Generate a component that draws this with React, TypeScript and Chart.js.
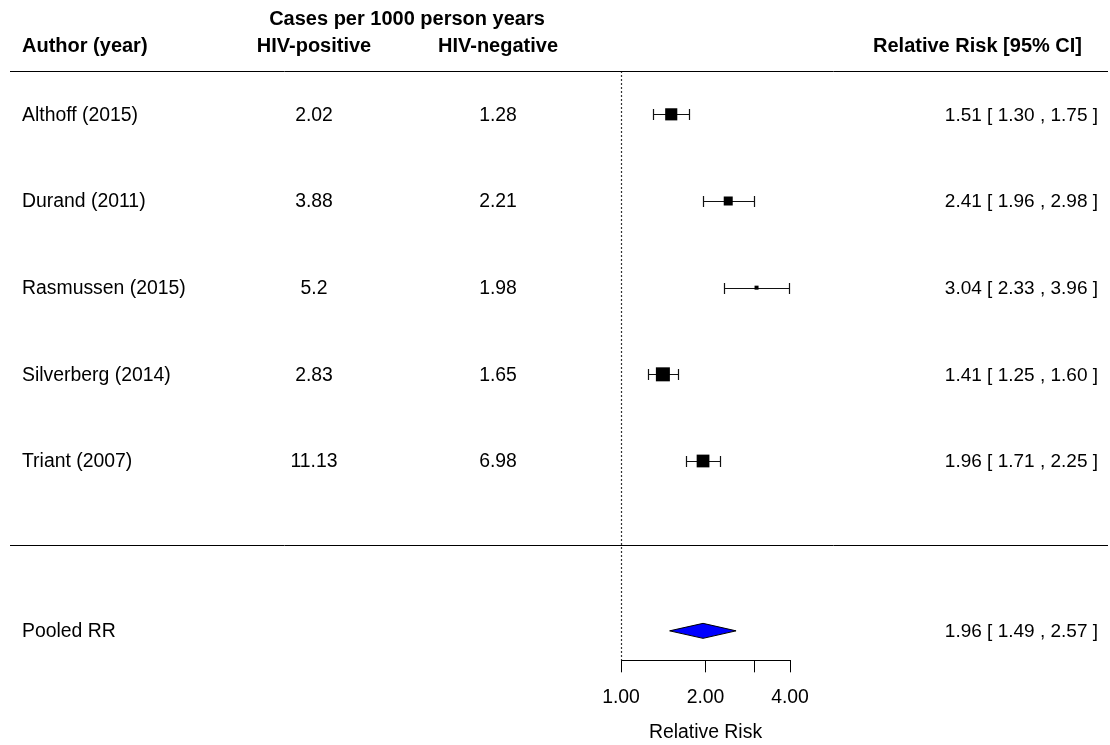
import React, { useEffect, useRef } from 'react';
import { Chart, registerables } from 'chart.js';

Chart.register(...registerables);

// ---- data ----
const studies = ['Althoff (2015)', 'Durand (2011)', 'Rasmussen (2015)', 'Silverberg (2014)', 'Triant (2007)'];
const hivPositive = ['2.02', '3.88', '5.2', '2.83', '11.13'];
const hivNegative = ['1.28', '2.21', '1.98', '1.65', '6.98'];
const relRisk = [1.51, 2.41, 3.04, 1.41, 1.96];
const ciLow = [1.3, 1.96, 2.33, 1.25, 1.71];
const ciHigh = [1.75, 2.98, 3.96, 1.6, 2.25];
const weights = [21.5, 19, 15, 23, 22];
const pooledLabel = 'Pooled RR';
const pooledRR = 1.96;
const pooledLow = 1.49;
const pooledHigh = 2.57;
const xTicks = [1, 2, 3, 4];
const xTickLabels = ['1.00', '2.00', '', '4.00'];
const headerTop = 'Cases per 1000 person years';
const headers = ['Author (year)', 'HIV-positive', 'HIV-negative', 'Relative Risk [95% CI]'];
const axisTitle = 'Relative Risk';

// ---- layout constants ----
const W = 1110;
const H = 745;
const FONT = '"Liberation Sans", Arial, Helvetica, sans-serif';
const FS = 19.4;
const FSR = 19;
const FSB = 20;
const SEP_ROW = 4.97;
const POOLED_ROW = 5.96;

const fmt = (v: number) => v.toFixed(2);

const minW = Math.min(...weights);
const maxW = Math.max(...weights);
const sideFor = (w: number) => 4 + ((w - minW) / (maxW - minW)) * 10;

const forestPlugin = {
  id: 'forest',
  beforeDatasetsDraw(chart: any) {
    const { ctx, chartArea } = chart;
    const xs = chart.scales.x;
    const ys = chart.scales.y;
    ctx.save();
    // reference dotted line at RR = 1
    const x1 = Math.round(xs.getPixelForValue(1)) + 0.5;
    ctx.strokeStyle = '#333';
    ctx.lineWidth = 1.2;
    ctx.setLineDash([2, 2]);
    ctx.beginPath();
    ctx.moveTo(x1, chartArea.top);
    ctx.lineTo(x1, chartArea.bottom);
    ctx.stroke();
    ctx.setLineDash([]);
    // error bars
    ctx.strokeStyle = '#111';
    ctx.lineWidth = 1.2;
    for (let i = 0; i < relRisk.length; i++) {
      const y = Math.round(ys.getPixelForValue(i)) + 0.5;
      const a = Math.round(xs.getPixelForValue(ciLow[i])) + 0.5;
      const b = Math.round(xs.getPixelForValue(ciHigh[i])) + 0.5;
      ctx.beginPath();
      ctx.moveTo(a, y);
      ctx.lineTo(b, y);
      ctx.moveTo(a, y - 5.5);
      ctx.lineTo(a, y + 5.5);
      ctx.moveTo(b, y - 5.5);
      ctx.lineTo(b, y + 5.5);
      ctx.stroke();
    }
    // pooled diamond
    const py = ys.getPixelForValue(POOLED_ROW);
    const lo = xs.getPixelForValue(pooledLow);
    const hi = xs.getPixelForValue(pooledHigh);
    const est = xs.getPixelForValue(pooledRR);
    ctx.beginPath();
    ctx.moveTo(lo, py);
    ctx.lineTo(est, py - 7.5);
    ctx.lineTo(hi, py);
    ctx.lineTo(est, py + 7.5);
    ctx.closePath();
    ctx.fillStyle = '#0000ff';
    ctx.fill();
    ctx.strokeStyle = '#000';
    ctx.lineWidth = 1;
    ctx.stroke();
    ctx.restore();
  },
  afterDraw(chart: any) {
    const { ctx, chartArea } = chart;
    const ys = chart.scales.y;
    ctx.save();
    ctx.fillStyle = '#000';
    ctx.textBaseline = 'middle';
    // headers
    ctx.font = `bold ${FSB}px ${FONT}`;
    ctx.textAlign = 'center';
    ctx.fillText(headerTop, 407, 19);
    ctx.textAlign = 'left';
    ctx.fillText(headers[0], 22, 46);
    ctx.textAlign = 'center';
    ctx.fillText(headers[1], 314, 46);
    ctx.fillText(headers[2], 498, 46);
    ctx.textAlign = 'right';
    ctx.fillText(headers[3], 1082, 46);
    // rules
    ctx.strokeStyle = '#000';
    ctx.lineWidth = 1;
    const top = Math.round(chartArea.top) + 0.5;
    const sep = Math.round(ys.getPixelForValue(SEP_ROW)) + 0.5;
    ctx.beginPath();
    ctx.moveTo(10, top);
    ctx.lineTo(1108, top);
    ctx.moveTo(10, sep);
    ctx.lineTo(1108, sep);
    ctx.stroke();
    // rows
    for (let i = 0; i < studies.length; i++) {
      const y = ys.getPixelForValue(i) + 1;
      ctx.font = `${FS}px ${FONT}`;
      ctx.textAlign = 'left';
      ctx.fillText(studies[i], 22, y);
      ctx.textAlign = 'center';
      ctx.fillText(hivPositive[i], 314, y);
      ctx.fillText(hivNegative[i], 498, y);
      ctx.font = `${FSR}px ${FONT}`;
      ctx.textAlign = 'right';
      ctx.fillText(`${fmt(relRisk[i])} [ ${fmt(ciLow[i])} , ${fmt(ciHigh[i])} ]`, 1098, y);
    }
    const py = ys.getPixelForValue(POOLED_ROW) + 1;
    ctx.font = `${FS}px ${FONT}`;
    ctx.textAlign = 'left';
    ctx.fillText(pooledLabel, 22, py);
    ctx.font = `${FSR}px ${FONT}`;
    ctx.textAlign = 'right';
    ctx.fillText(`${fmt(pooledRR)} [ ${fmt(pooledLow)} , ${fmt(pooledHigh)} ]`, 1098, py);
    ctx.restore();
  },
};

export default function App() {
  const ref = useRef<HTMLCanvasElement | null>(null);
  useEffect(() => {
    if (!ref.current) return;
    const chart = new Chart(ref.current, {
      type: 'scatter',
      data: {
        datasets: [
          {
            data: relRisk.map((v, i) => ({ x: v, y: i })),
            pointStyle: 'rect',
            pointRadius: weights.map((w) => sideFor(w) / (2 * Math.SQRT1_2)),
            pointHoverRadius: weights.map((w) => sideFor(w) / (2 * Math.SQRT1_2)),
            pointBorderWidth: 0,
            backgroundColor: '#000',
            borderColor: '#000',
            clip: false as any,
          },
        ],
      },
      options: {
        animation: false,
        responsive: false,
        events: [],
        layout: { padding: { left: 621, right: W - 790, top: 71, bottom: 0 } },
        plugins: { legend: { display: false }, tooltip: { enabled: false } },
        scales: {
          x: {
            type: 'logarithmic',
            position: 'bottom',
            min: 1,
            max: 4,
            afterBuildTicks: (scale: any) => {
              scale.ticks = xTicks.map((v) => ({ value: v }));
            },
            ticks: {
              autoSkip: false,
              maxRotation: 0,
              padding: 13.5,
              color: '#000',
              font: { family: FONT, size: FS },
              callback: (v: any) => xTickLabels[xTicks.indexOf(Number(v))] ?? '',
            },
            grid: {
              drawOnChartArea: false,
              drawTicks: true,
              tickLength: 12,
              color: '#000',
              lineWidth: 1,
            },
            border: { display: true, color: '#000', width: 1 },
            title: {
              display: true,
              text: axisTitle,
              color: '#000',
              font: { family: FONT, size: FS, lineHeight: 1 },
              padding: { top: 0, bottom: 3 },
            },
          },
          y: {
            type: 'linear',
            display: false,
            reverse: true,
            min: -0.5,
            max: 6.3,
          },
        },
      },
      plugins: [forestPlugin],
    });
    return () => chart.destroy();
  }, []);
  return (
    <div style={{ position: 'absolute', left: 0, top: 0, width: W, height: H, background: '#fff' }}>
      <canvas ref={ref} width={W} height={H} style={{ display: 'block', width: W, height: H }} />
    </div>
  );
}
